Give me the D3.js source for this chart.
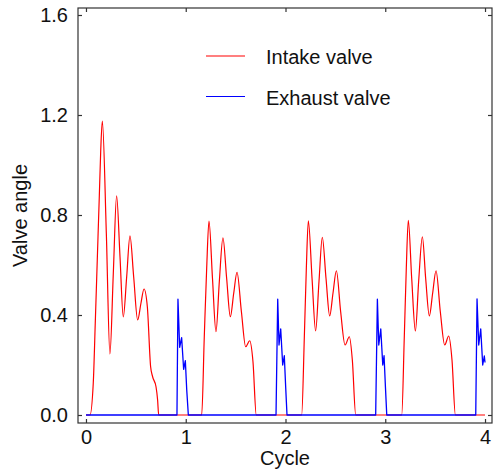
<!DOCTYPE html>
<html>
<head>
<meta charset="utf-8">
<script src="https://cdn.jsdelivr.net/npm/d3@7"></script>
<style>
  body { margin: 0; background: #fff; }
  svg { display: block; font-family: Arial, "Liberation Sans", Helvetica, sans-serif; }
</style>
</head>
<body>
<div id="chart"></div>
<script>
// valores: [ciclo, ángulo]
const intakeValve = [
  [0.000, 0], [0.040, 0], [0.073, 0.127], [0.094, 0.38], [0.114, 0.63], [0.134, 0.88], [0.148, 1.06],
  [0.164, 1.176], [0.204, 0.727], [0.240, 0.244], [0.274, 0.567], [0.307, 0.877], [0.341, 0.633],
  [0.374, 0.392], [0.408, 0.553], [0.441, 0.717], [0.478, 0.553], [0.518, 0.38], [0.551, 0.447],
  [0.582, 0.504], [0.615, 0.433], [0.648, 0.193], [0.668, 0.153], [0.702, 0.113], [0.718, 0.06], [0.729, 0],
  [1.160, 0], [1.186, 0.315], [1.210, 0.588], [1.233, 0.776], [1.268, 0.547], [1.303, 0.333],
  [1.337, 0.536], [1.373, 0.709], [1.410, 0.547], [1.447, 0.393], [1.481, 0.487], [1.514, 0.571],
  [1.558, 0.413], [1.601, 0.273], [1.641, 0.297], [1.674, 0.213], [1.707, 0],
  [2.162, 0], [2.189, 0.315], [2.209, 0.588], [2.229, 0.777], [2.266, 0.547], [2.302, 0.336],
  [2.336, 0.536], [2.369, 0.711], [2.406, 0.547], [2.443, 0.396], [2.476, 0.487], [2.510, 0.577],
  [2.553, 0.413], [2.597, 0.28], [2.640, 0.313], [2.670, 0.22], [2.704, 0],
  [3.165, 0], [3.191, 0.315], [3.211, 0.588], [3.231, 0.779], [3.265, 0.547], [3.302, 0.336],
  [3.335, 0.536], [3.372, 0.713], [3.405, 0.547], [3.442, 0.396], [3.475, 0.487], [3.509, 0.577],
  [3.552, 0.413], [3.596, 0.28], [3.636, 0.316], [3.669, 0.22], [3.703, 0],
  [4.000, 0]
];

const exhaustValve = [
  [0.000, 0],
  [0.912, 0], [0.922, 0.463], [0.939, 0.271], [0.959, 0.309], [0.979, 0.183], [0.996, 0.217], [1.010, 0.10], [1.026, 0],
  [1.905, 0], [1.922, 0.463], [1.935, 0.28], [1.952, 0.344], [1.972, 0.2], [1.988, 0.237], [2.002, 0.11], [2.015, 0],
  [2.904, 0], [2.921, 0.463], [2.935, 0.28], [2.955, 0.344], [2.975, 0.2], [2.988, 0.237], [3.002, 0.11], [3.015, 0],
  [3.907, 0], [3.920, 0.464], [3.937, 0.28], [3.957, 0.344], [3.977, 0.2], [3.993, 0.236], [4.000, 0.21]
];

const xTicks = [0, 1, 2, 3, 4];
const yTicks = [0, 0.4, 0.8, 1.2, 1.6];
const seriesNames = ["Intake valve", "Exhaust valve"];
const seriesColors = ["#ff0000", "#0000ff"];

const width = 493;
const height = 473;
const plot = { left: 78, right: 492, top: 8, bottom: 423 };

const svg = d3.select("#chart").append("svg")
  .attr("width", width)
  .attr("height", height);

const x = d3.scaleLinear().domain([-0.08, 4.07]).range([plot.left, plot.right]);
const y = d3.scaleLinear().domain([-0.032, 1.628]).range([plot.bottom, plot.top]);

// curvas
const intakeLine = d3.line()
  .x(d => x(d[0]))
  .y(d => y(d[1]))
  .curve(d3.curveMonotoneX);

const exhaustLine = d3.line()
  .x(d => x(d[0]))
  .y(d => y(d[1]));

svg.append("path")
  .datum(intakeValve)
  .attr("fill", "none")
  .attr("stroke", seriesColors[0])
  .attr("stroke-width", 1.2)
  .attr("d", intakeLine);

svg.append("path")
  .datum(exhaustValve)
  .attr("fill", "none")
  .attr("stroke", seriesColors[1])
  .attr("stroke-width", 1.3)
  .attr("stroke-linejoin", "round")
  .attr("d", exhaustLine);

// marco y ejes
svg.append("rect")
  .attr("x", plot.left)
  .attr("y", plot.top)
  .attr("width", plot.right - plot.left)
  .attr("height", plot.bottom - plot.top)
  .attr("fill", "none")
  .attr("stroke", "#333")
  .attr("stroke-width", 1.2);

function styleAxis(g) {
  g.select(".domain").remove();
  g.selectAll(".tick line").attr("stroke", "#333").attr("stroke-width", 1.2);
  g.selectAll(".tick text").attr("fill", "#111").style("font-size", "20px")
    .style("font-family", "Arial, 'Liberation Sans', Helvetica, sans-serif");
}

svg.append("g")
  .attr("transform", `translate(0,${plot.bottom})`)
  .call(d3.axisBottom(x).tickValues(xTicks).tickSize(-4).tickPadding(7).tickFormat(d3.format("d")))
  .call(styleAxis);

svg.append("g")
  .attr("transform", `translate(0,${plot.top})`)
  .call(d3.axisTop(x).tickValues(xTicks).tickSize(-4).tickFormat(""))
  .call(styleAxis);

svg.append("g")
  .attr("transform", `translate(${plot.left},0)`)
  .call(d3.axisLeft(y).tickValues(yTicks).tickSize(-4).tickPadding(10).tickFormat(d3.format(".1f")))
  .call(styleAxis);

svg.append("g")
  .attr("transform", `translate(${plot.right},0)`)
  .call(d3.axisRight(y).tickValues(yTicks).tickSize(-4).tickFormat(""))
  .call(styleAxis);

// títulos
svg.append("text")
  .attr("x", (plot.left + plot.right) / 2)
  .attr("y", 465)
  .attr("text-anchor", "middle")
  .attr("fill", "#111")
  .style("font-size", "20px")
  .text("Cycle");

svg.append("text")
  .attr("transform", `translate(27,${(plot.top + plot.bottom) / 2}) rotate(-90)`)
  .attr("text-anchor", "middle")
  .attr("fill", "#111")
  .style("font-size", "20px")
  .text("Valve angle");

// leyenda
const legend = svg.append("g")
  .selectAll("g")
  .data(seriesNames)
  .join("g")
  .attr("transform", (d, i) => `translate(206,${56 + i * 40.5})`);

legend.append("line")
  .attr("x1", 0)
  .attr("x2", 39)
  .attr("stroke", (d, i) => seriesColors[i])
  .attr("stroke-width", 1.2);

legend.append("text")
  .attr("x", 60)
  .attr("y", 8)
  .attr("fill", "#111")
  .style("font-size", "20px")
  .text(d => d);
</script>
</body>
</html>
